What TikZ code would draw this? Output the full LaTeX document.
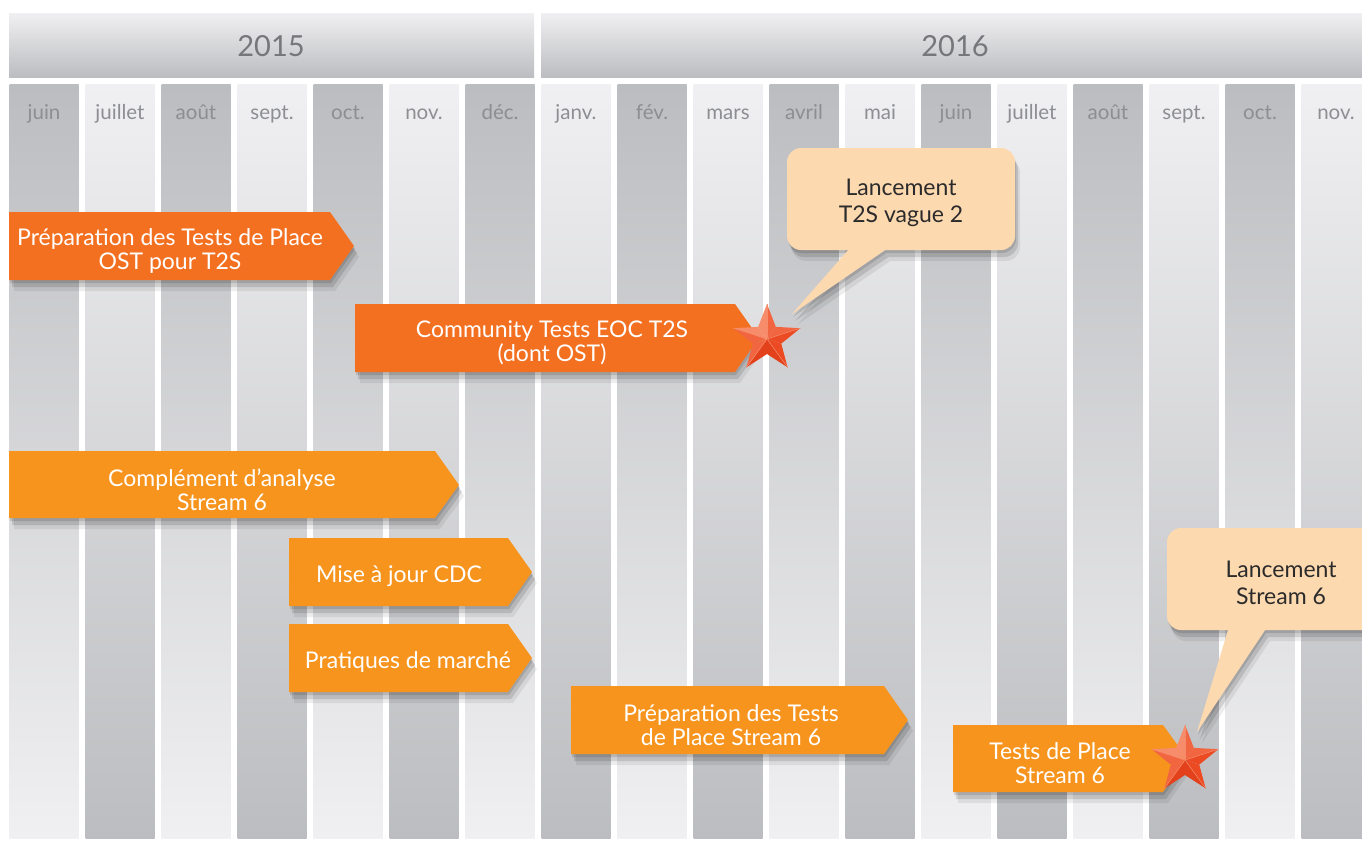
\documentclass[tikz,border=0pt]{standalone}
\usepackage{fontspec}
\setmainfont{Lato}
\usetikzlibrary{shadows}

\definecolor{colgray}{HTML}{BCBDC0}
\definecolor{colwhite}{HTML}{F0F0F2}
\definecolor{yeartext}{HTML}{76777A}
\definecolor{monthtext}{HTML}{8D8E91}
\definecolor{orangedark}{HTML}{F37021}
\definecolor{orangelight}{HTML}{F7941E}
\definecolor{peach}{HTML}{FDD9B0}
\definecolor{bubbletext}{HTML}{2B2B2B}
\definecolor{starlight}{HTML}{F68C6A}
\definecolor{starmid}{HTML}{F16640}
\definecolor{stardark}{HTML}{EC4A22}
\definecolor{starshade}{HTML}{E2411C}

\tikzset{
	col dark/.style={top color=colgray, bottom color=colwhite},
	col light/.style={top color=colwhite, bottom color=colgray},
	yearbox/.style={top color=colwhite, bottom color=colgray},
	yearlabel/.style={text=yeartext, font=\fontsize{29}{32}\selectfont},
	monthlabel/.style={text=monthtext, anchor=base, font=\fontsize{20.5}{22}\selectfont},
	barshadow/.style={
		drop shadow={shadow xshift=1pt, shadow yshift=-3pt, opacity=0.12, fill=black},
		drop shadow={shadow xshift=3pt, shadow yshift=-7pt, opacity=0.12, fill=black},
		drop shadow={shadow xshift=5pt, shadow yshift=-11pt, opacity=0.07, fill=black}},
	bar T2S/.style={fill=orangedark, barshadow},
	bar S6/.style={fill=orangelight, barshadow},
	bartext/.style={text=white, align=center, font=\fontsize{23}{24}\selectfont},
	bubble/.style={fill=peach, rounded corners=14pt, minimum width=228pt, minimum height=102pt, barshadow},
	bubbletxt/.style={text=bubbletext, align=center, yshift=-4pt, font=\fontsize{23}{27}\selectfont},
	tail/.style={fill=peach, barshadow},
	jalon/.pic={
		\foreach \k/\ca/\cb in {0/starlight/starmid,1/starmid/stardark,2/stardark/starshade,3/starshade/starmid,4/starmid/starlight}{
			\fill[\ca] (0,0) -- (-126+72*\k:15) -- (-90+72*\k:35) -- cycle;
			\fill[\cb] (0,0) -- (-90+72*\k:35) -- (-54+72*\k:15) -- cycle;
			\draw[starlight, line width=0.5pt] (0,0) -- (-90+72*\k:35);
		}
	}
}

\begin{document}
\begin{tikzpicture}[x=1pt, y=-1pt]
	\useasboundingbox (0,0) rectangle (1362,841);
	\clip (0,0) rectangle (1362,841);
	\fill[white] (0,0) rectangle (1362,841);

	% years
	\shade[yearbox] (9,13) rectangle (534,77);
	\shade[yearbox] (541,13) rectangle (1370,77);
	\node[yearlabel] (y2015) at (271,46) {2015};
	\node[yearlabel] (y2016) at (955,46) {2016};

	% month columns
	\foreach \i in {0,2,...,16}
		\shade[col dark] (9.5+76*\i,84) rectangle (78.5+76*\i,838);
	\foreach \i in {1,3,...,17}
		\shade[col light] (9.5+76*\i,84) rectangle (78.5+76*\i,838);
	\foreach \m [count=\i from 0] in {juin,juillet,août,sept.,oct.,nov.,déc.,janv.,fév.,mars,avril,mai,juin,juillet,août,sept.,oct.,nov.}
		\node[monthlabel] (m\i) at (44+76*\i,119) {\m};

	% T2S
	\fill[bar T2S] (9,212) -- (330,212) -- (354,246) -- (330,280) -- (9,280) -- cycle;
	\node[bartext] (prepost) at (170,251) {Préparation des Tests de Place\\OST pour T2S};
	\fill[bar T2S] (355,304) -- (735,304) -- (759,338) -- (735,372) -- (355,372) -- cycle;
	\node[bartext] (community) at (552,343) {Community Tests EOC T2S\\(dont OST)};

	% Stream 6
	\fill[bar S6] (9,451) -- (435,451) -- (459,485) -- (435,518) -- (9,518) -- cycle;
	\node[bartext] (complement) at (222,490) {Complément d'analyse\\Stream 6};
	\fill[bar S6] (289,538) -- (508,538) -- (532,572) -- (508,606) -- (289,606) -- cycle;
	\node[bartext] (cdc) at (399,576) {Mise à jour CDC};
	\fill[bar S6] (289,624) -- (508,624) -- (532,658) -- (508,692) -- (289,692) -- cycle;
	\node[bartext] (pratiques) at (408,662) {Pratiques de marché};
	\fill[bar S6] (571,686) -- (884,686) -- (908,720) -- (884,754) -- (571,754) -- cycle;
	\node[bartext] (prepS6) at (731,725) {Préparation des Tests\\de Place Stream 6};
	\fill[bar S6] (953,725) -- (1163,725) -- (1187,758) -- (1163,792) -- (953,792) -- cycle;
	\node[bartext] (testsS6) at (1060,763) {Tests de Place\\Stream 6};

	% jalons
	\pic at (767,339) {jalon};
	\pic at (1185,760) {jalon};

	% bulles
	\coordinate (tipT2S) at (792,314);
	\coordinate (tipS6) at (1197,732);
	\node[bubble] (lanceT2S) at (901,199) {};
	\fill[tail] ([xshift=-53pt]lanceT2S.south) -- (tipT2S) -- ([xshift=-16pt]lanceT2S.south) -- cycle;
	\node[bubbletxt] (txtT2S) at (lanceT2S.center) {Lancement\\T2S vague 2};
	\node[bubble] (lanceS6) at (1281,579) {};
	\fill[tail] ([xshift=-53pt]lanceS6.south) -- (tipS6) -- ([xshift=-16pt]lanceS6.south) -- cycle;
	\node[bubbletxt] (txtS6) at (lanceS6.center) {Lancement\\Stream 6};
\end{tikzpicture}
\end{document}
